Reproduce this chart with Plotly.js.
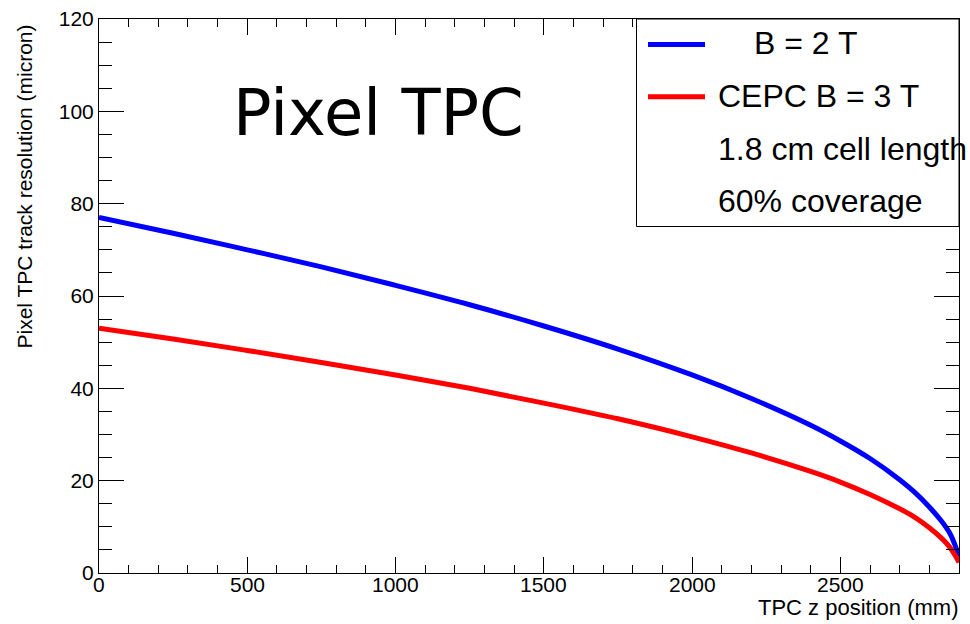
<!DOCTYPE html>
<html>
<head>
<meta charset="utf-8">
<script src="https://cdn.plot.ly/plotly-3.0.1.min.js"></script>
<style>html,body{margin:0;padding:0;background:#fff;}#chart{width:970px;height:624px;}</style>
</head>
<body>
<div id="chart"></div>
<script>
// TPC z position (mm)
const zPos = [0, 250, 500, 750, 1000, 1250, 1500, 1750, 2000, 2200, 2400, 2500, 2600, 2700, 2750, 2800, 2840, 2870, 2885, 2895, 2900];
// Pixel TPC track resolution (micron), B = 2 T
const resB2 = [77.0, 73.6, 70.0, 66.3, 62.3, 58.1, 53.5, 48.5, 42.9, 37.8, 32.0, 28.6, 24.8, 20.2, 17.5, 14.3, 11.3, 8.5, 6.3, 4.5, 3.5];
// CEPC B = 3 T
const resB3 = [53.0, 50.7, 48.2, 45.6, 42.9, 40.0, 36.8, 33.4, 29.5, 26.0, 22.0, 19.7, 17.0, 13.9, 12.1, 9.8, 7.6, 5.5, 4.0, 2.9, 2.3];

// x tick labels
const xTickVals = [0, 500, 1000, 1500, 2000, 2500];
const xTickText = ["0", "500", "1000", "1500", "2000", "2500"];

const seriesNames = ["     B = 2 T", "CEPC B = 3 T"];
const legendExtra = ["1.8 cm cell length", "60% coverage"];
const plotLabel = "Pixel TPC";
const xTitle = "TPC z position (mm)";
const yTitle = "Pixel TPC track resolution (micron)";

const L = 99, R = 11, T = 19, B = 51, W = 970, H = 624;
const pw = W - L - R, ph = H - T - B;
const px = v => (v - L) / pw;
const py = v => (H - B - v) / ph;

const traces = [
  {x: zPos, y: resB2, mode: 'lines', name: seriesNames[0], line: {color: 'rgb(0,0,255)', width: 5, shape: 'spline', smoothing: 1}},
  {x: zPos, y: resB3, mode: 'lines', name: seriesNames[1], line: {color: 'rgb(255,0,0)', width: 5, shape: 'spline', smoothing: 1}}
];

const FONT = '"Liberation Sans", Arial, Helvetica, sans-serif';

const axisCommon = {
  showline: true, linecolor: 'black', linewidth: 1, mirror: 'ticks',
  ticks: 'inside', tickcolor: 'black', tickwidth: 1,
  showgrid: false, zeroline: false,
  tickfont: {family: FONT, size: 21, color: 'black'}
};

const annotations = [
  {text: 'B = 2 T', xref: 'paper', yref: 'paper', x: px(752), y: py(43.5), xanchor: 'left', yanchor: 'middle',
   showarrow: false, font: {family: FONT, size: 32, color: 'black'}},
  {text: seriesNames[1], xref: 'paper', yref: 'paper', x: px(716), y: py(95.7), xanchor: 'left', yanchor: 'middle',
   showarrow: false, font: {family: FONT, size: 32, color: 'black'}},
  {text: legendExtra[0], xref: 'paper', yref: 'paper', x: px(716), y: py(148.5), xanchor: 'left', yanchor: 'middle',
   showarrow: false, font: {family: FONT, size: 32, color: 'black'}},
  {text: legendExtra[1], xref: 'paper', yref: 'paper', x: px(716), y: py(201), xanchor: 'left', yanchor: 'middle',
   showarrow: false, font: {family: FONT, size: 32, color: 'black'}},
  {text: plotLabel, xref: 'paper', yref: 'paper', x: px(378), y: py(113.5), xanchor: 'center', yanchor: 'middle',
   showarrow: false, font: {family: '"DejaVu Sans", sans-serif', size: 64, color: 'black'}},
  {text: xTitle, xref: 'paper', yref: 'paper', x: px(960), y: py(607), xanchor: 'right', yanchor: 'middle',
   showarrow: false, font: {family: FONT, size: 22, color: 'black'}},
  {text: yTitle, xref: 'paper', yref: 'paper', x: px(24), y: py(186.5), xanchor: 'center', yanchor: 'middle',
   textangle: -90, showarrow: false, font: {family: FONT, size: 21, color: 'black'}}
];
xTickVals.forEach((v, i) => annotations.push({
  text: xTickText[i], xref: 'x', yref: 'paper', x: v, y: py(584), xanchor: 'center', yanchor: 'middle',
  showarrow: false, font: {family: FONT, size: 21, color: 'black'}
}));

const layout = {
  width: W, height: H,
  margin: {l: L, r: R, t: T, b: B, pad: 0},
  paper_bgcolor: 'white', plot_bgcolor: 'white',
  showlegend: false,
  xaxis: Object.assign({}, axisCommon, {
    range: [0, 2900], dtick: 500, tick0: 0, ticklen: 16, showticklabels: false,
    minor: {dtick: 100, ticklen: 8, ticks: 'inside', tickcolor: 'black', tickwidth: 1, showgrid: false}
  }),
  yaxis: Object.assign({}, axisCommon, {
    range: [0, 120], dtick: 20, tick0: 0, ticklen: 25,
    minor: {dtick: 5, ticklen: 13, ticks: 'inside', tickcolor: 'black', tickwidth: 1, showgrid: false}
  }),
  shapes: [
    {type: 'rect', xref: 'paper', yref: 'paper', x0: px(636.5), x1: px(959), y0: py(226.5), y1: py(19),
     line: {color: 'black', width: 1}, fillcolor: 'white', layer: 'above'},
    {type: 'line', xref: 'paper', yref: 'paper', x0: px(648), x1: px(705), y0: py(44.5), y1: py(44.5),
     line: {color: 'rgb(0,0,255)', width: 5}, layer: 'above'},
    {type: 'line', xref: 'paper', yref: 'paper', x0: px(648), x1: px(705), y0: py(96.7), y1: py(96.7),
     line: {color: 'rgb(255,0,0)', width: 5}, layer: 'above'}
  ],
  annotations: annotations
};

Plotly.newPlot('chart', traces, layout, {staticPlot: true, displayModeBar: false});
</script>
</body>
</html>
